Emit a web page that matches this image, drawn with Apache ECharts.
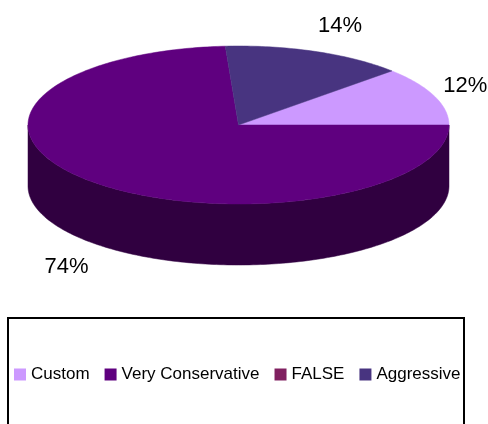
<!DOCTYPE html>
<html><head><meta charset="utf-8">
<script src="https://cdn.jsdelivr.net/npm/echarts@6/dist/echarts.min.js"></script>
<style>html,body{margin:0;padding:0;background:#fff}#c{width:488px;height:424px}</style>
</head><body><div id="c"></div>
<script>
const categories = ['Custom', 'Very Conservative', 'FALSE', 'Aggressive'];
const values = [12, 74, 0, 14];
const colors = ['#CC99FF', '#5F007F', '#802060', '#483480'];
const sideColors = ['#664C80', '#300040', '#401030', '#241A40'];

const geo = { cx: 238.5, cy: 125, rx: 210.5, ry: 79, depth: 61, startAngle: 43.2 };
const total = values.reduce((a, b) => a + b, 0);
const cum = []; let acc = 0; values.forEach(v => { cum.push(acc); acc += v; });

function pt(a, dy) { const r = a * Math.PI / 180; return [geo.cx + geo.rx * Math.cos(r), geo.cy - geo.ry * Math.sin(r) + (dy || 0)]; }
function arc(a1, a2, dy) {
  const n = Math.max(2, Math.ceil(Math.abs(a2 - a1)));
  const p = [];
  for (let i = 0; i <= n; i++) p.push(pt(a1 + (a2 - a1) * i / n, dy));
  return p;
}
function makeSeries(i) {
  return {
    type: 'custom', name: categories[i], coordinateSystem: 'none',
    itemStyle: { color: colors[i] },
    data: [values[i]],
    silent: true,
    renderItem: function (params, api) {
      const v = api.value(0);
      if (!v) return { type: 'group', children: [] };
      const a0 = geo.startAngle - cum[i] / total * 360;
      const a1 = a0 - v / total * 360;
      const children = [];
      for (let k = -2; k <= 1; k++) {
        const lo = Math.max(a1, -180 + 360 * k), hi = Math.min(a0, 360 * k);
        if (hi > lo) {
          const top = arc(hi, lo, 0), bot = arc(lo, hi, geo.depth);
          children.push({ type: 'polygon', shape: { points: top.concat(bot) }, style: { fill: sideColors[i], stroke: sideColors[i], lineWidth: 0.5 } });
        }
      }
      const topPts = [[geo.cx, geo.cy]].concat(arc(a0, a1, 0));
      children.push({ type: 'polygon', shape: { points: topPts }, style: { fill: colors[i], stroke: colors[i], lineWidth: 0.5 } });
      const mid = (a0 + a1) / 2 * Math.PI / 180, s = Math.sin(mid), c = Math.cos(mid);
      children.push({
        type: 'text',
        x: geo.cx + (geo.rx + 12.5) * c + 19.4 * Math.sign(c),
        y: geo.cy - (geo.ry + 28) * s + (s < 0 ? geo.depth + 3 : 0),
        style: { text: Math.round(v / total * 100) + '%', fill: '#000', fontSize: 22, fontFamily: 'Liberation Sans', align: 'center', verticalAlign: 'middle' }
      });
      return { type: 'group', children: children };
    }
  };
}
const chart = echarts.init(document.getElementById('c'), null, { renderer: 'canvas' });
chart.setOption({
  animation: false,
  backgroundColor: '#fff',
  legend: {
    left: 14, top: 366, itemWidth: 12, itemHeight: 12, itemGap: 15, icon: 'rect',
    selectedMode: false, padding: 0,
    data: categories,
    textStyle: { fontSize: 17, fontFamily: 'Liberation Sans', color: '#000' }
  },
  graphic: [{ type: 'rect', silent: true, shape: { x: 8, y: 318, width: 456, height: 200 }, style: { fill: null, stroke: '#000', lineWidth: 2 } }],
  series: categories.map((c, i) => makeSeries(i))
});
</script></body></html>
